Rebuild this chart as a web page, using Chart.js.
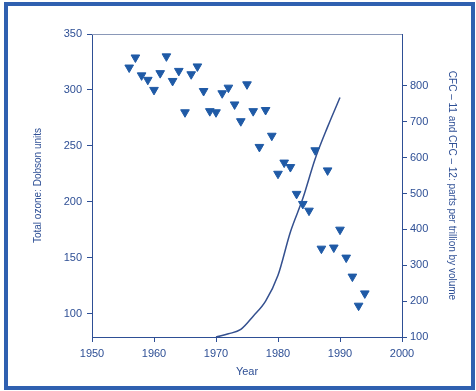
<!DOCTYPE html>
<html>
<head>
<meta charset="utf-8">
<script src="https://cdn.jsdelivr.net/npm/chart.js@4"></script>
<style>
  html, body { margin: 0; padding: 0; background: #ffffff; }
  #wrap { position: relative; width: 476px; height: 391px; }
  #frame { position: absolute; left: 4px; top: 2px; width: 463px; height: 380px; border: 4px solid #2f60b0; pointer-events: none; }
  canvas { display: block; }
</style>
</head>
<body>
<div id="wrap">
  <canvas id="c" width="476" height="391"></canvas>
  <div id="frame"></div>
</div>
<script>
// ---- data ----
const years = [1956,1957,1958,1959,1960,1961,1962,1963,1964,1965,1966,1967,1968,1969,1970,1971,1972,1973,1974,1975,1976,1977,1978,1979,1980,1981,1982,1983,1984,1985,1986,1987,1988,1989,1990,1991,1992,1993,1994];
const ozone = [320,329,313,309,300,315,330,308,317,280,314,321,299,281,280,297,302,287,272,305,281,249,282,259,225,235,231,207,198,192,246,158,228,159,175,150,133,107,118];
const cfcYears = [1970,1972,1974,1976,1978,1980,1982,1984,1986,1988,1990];
const cfcValues = [100,109,121,158,200,272,393,486,597,686,768];
const xTicks = [1950,1960,1970,1980,1990,2000];
const ozoneTicks = [100,150,200,250,300,350];
const cfcTicks = [100,200,300,400,500,600,700,800];

const ink = '#2e4f95';
const markColor = '#1f5aa6';
const font = { family: '"Liberation Sans", Arial, sans-serif', size: 11 };

const frameTop = {
  id: 'frameTop',
  afterDraw(chart) {
    const a = chart.chartArea, ctx = chart.ctx;
    ctx.save();
    ctx.strokeStyle = '#8a98b8';
    ctx.lineWidth = 1;
    ctx.beginPath();
    ctx.moveTo(a.left, a.top + 0.5);
    ctx.lineTo(a.right, a.top + 0.5);
    ctx.stroke();
    ctx.restore();
  }
};

new Chart(document.getElementById('c'), {
  type: 'scatter',
  data: {
    datasets: [
      {
        label: 'Total ozone',
        data: years.map((y, i) => ({ x: y, y: ozone[i] })),
        yAxisID: 'y',
        pointStyle: 'triangle',
        rotation: 180,
        pointRadius: 5,
        pointBackgroundColor: markColor,
        pointBorderColor: markColor,
        pointBorderWidth: 1,
        showLine: false
      },
      {
        label: 'CFC',
        data: cfcYears.map((y, i) => ({ x: y, y: cfcValues[i] })),
        yAxisID: 'y2',
        showLine: true,
        pointRadius: 0,
        borderColor: '#34508f',
        borderWidth: 1.5,
        cubicInterpolationMode: 'monotone',
        fill: false
      }
    ]
  },
  options: {
    responsive: false,
    animation: false,
    devicePixelRatio: 1,
    layout: { padding: { top: 34, left: 0, right: 0, bottom: 0 } },
    plugins: { legend: { display: false }, tooltip: { enabled: false } },
    scales: {
      x: {
        type: 'linear',
        min: 1950, max: 2000,
        afterBuildTicks: s => { s.ticks = xTicks.map(v => ({ value: v })); },
        afterFit: s => { s.height = 54; },
        grid: { drawOnChartArea: false, drawTicks: true, tickLength: 5, tickColor: ink },
        border: { display: true, color: ink, width: 1 },
        ticks: { color: ink, font: font, padding: 5, maxRotation: 0, callback: v => String(v) },
        title: { display: true, text: 'Year', color: ink, font: font, padding: { top: 0, bottom: 12 } }
      },
      y: {
        position: 'left',
        min: 79, max: 350,
        afterBuildTicks: s => { s.ticks = ozoneTicks.map(v => ({ value: v })); },
        afterFit: s => { s.width = 92; },
        grid: { drawOnChartArea: false, drawTicks: true, tickLength: 5, tickColor: ink },
        border: { display: true, color: ink, width: 1 },
        ticks: { color: ink, font: font, padding: 5, callback: v => String(v) },
        title: { display: true, text: 'Total ozone: Dobson units', color: ink, font: { family: font.family, size: 10 }, padding: { top: 32, bottom: 0 } }
      },
      y2: {
        position: 'right',
        min: 100, max: 945,
        afterBuildTicks: s => { s.ticks = cfcTicks.map(v => ({ value: v })); },
        afterFit: s => { s.width = 74; },
        grid: { drawOnChartArea: false, drawTicks: true, tickLength: 5, tickColor: ink },
        border: { display: true, color: ink, width: 1 },
        ticks: { color: ink, font: font, padding: 3, callback: v => String(v) },
        title: { display: true, text: 'CFC \u2013 11 and CFC \u2013 12: parts per trillion by volume', color: ink, font: { family: font.family, size: 10 }, padding: { top: 18, bottom: 0 } }
      }
    }
  },
  plugins: [frameTop]
});
</script>
</body>
</html>
